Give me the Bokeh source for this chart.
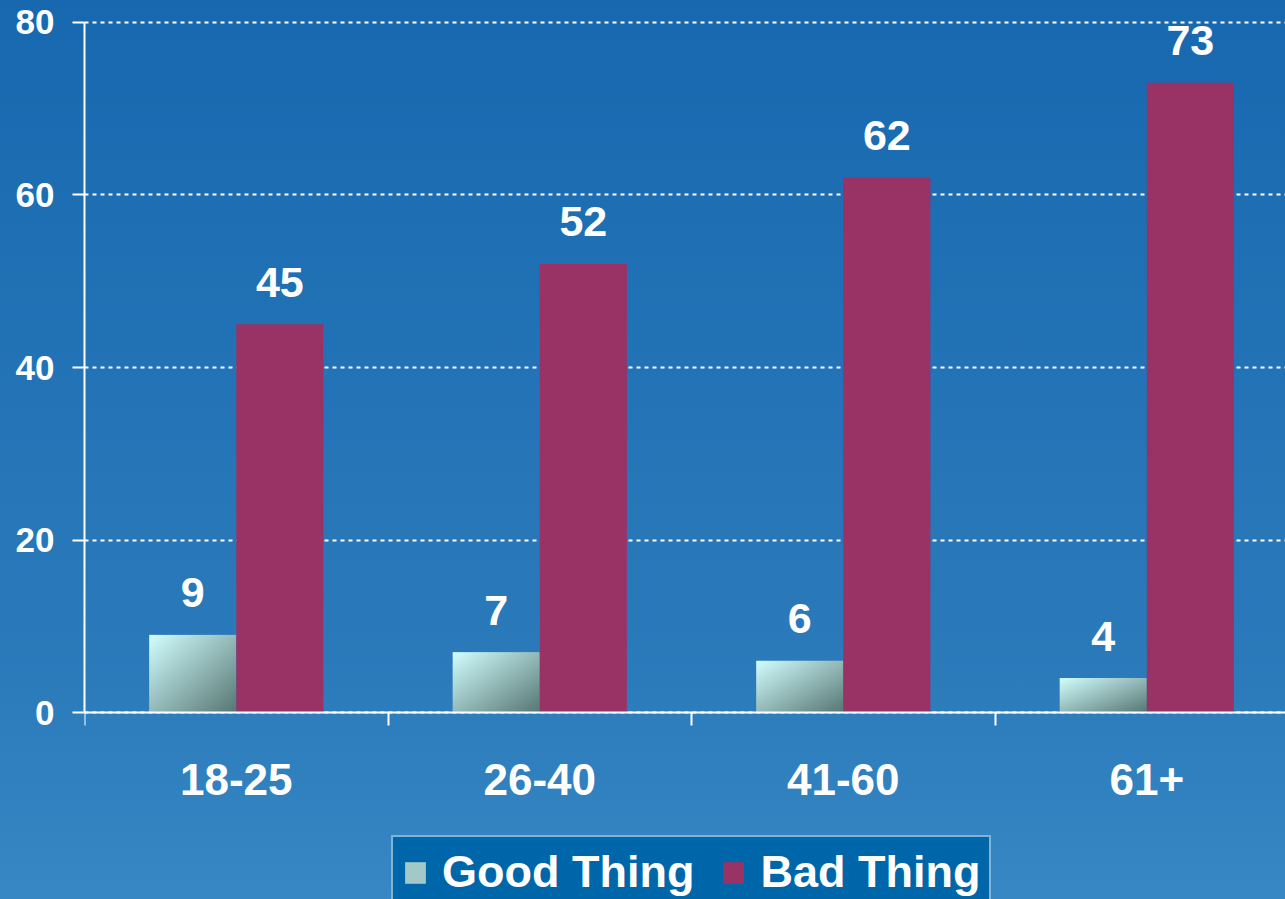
import numpy as np
from bokeh.plotting import figure
from bokeh.models import Range1d, FixedTicker, Legend, LegendItem, ColumnDataSource
from bokeh.embed import file_html
from bokeh.resources import INLINE
from bokeh.core.properties import value

# ---- data ----
categories = ["18-25", "26-40", "41-60", "61+"]
good = [9, 7, 6, 4]
bad = [45, 52, 62, 73]
y_ticks = [0, 20, 40, 60, 80]
series = ["Good Thing", "Bad Thing"]

BAR_W = 0.287
FONT = "Liberation Sans"
centers = [i + 0.5 for i in range(len(categories))]
boundaries = [float(i) for i in range(len(categories))]

p = figure(width=1285, height=899, output_backend="svg", toolbar_location=None,
           x_range=Range1d(0, 3.957), y_range=Range1d(-21.68, 82.55),
           min_border_left=84, min_border_right=0, min_border_top=0,
           min_border_bottom=0)
p.outline_line_color = None
p.background_fill_alpha = 0
p.border_fill_alpha = 0
p.styles = {"background": "linear-gradient(to bottom, #1868b0 0%, #2b7bbb 75%, #3687c3 100%)"}

# ---- gradient image for "Good Thing" bars ----
def grad_img(n=96, m=96):
    u = np.linspace(0, 1, n)
    v = np.linspace(0, 1, m)
    U, V = np.meshgrid(u, v)
    t = (U + (1 - V)) / 2.0
    c0 = np.array([210, 255, 255])
    c1 = np.array([88, 120, 117])
    img = np.empty((m, n), dtype=np.uint32)
    view = img.view(dtype=np.uint8).reshape((m, n, 4))
    for k in range(3):
        view[:, :, k] = (c0[k] + (c1[k] - c0[k]) * t).astype(np.uint8)
    view[:, :, 3] = 255
    return img

g = grad_img()
good_x = [c - BAR_W for c in centers]
p.image_rgba(image=[g] * len(good), x=good_x, y=[0] * len(good),
             dw=[BAR_W] * len(good), dh=good)

bad_r = p.vbar(x=[c + BAR_W / 2 for c in centers], width=BAR_W, top=bad, bottom=0,
               fill_color="#993366", line_color=None)

# legend swatch stand-in for the gradient bars (point kept outside the view)
proxy = p.vbar(source=ColumnDataSource(dict(x=[-10.0], top=[0.0])), x="x", top="top",
               width=BAR_W, fill_color="#a2c8c7", line_color=None)

# ---- value labels ----
lbl_kw = dict(text_align="center", text_baseline="alphabetic", y_offset=-42,
              text_font=value(FONT), text_font_style="bold", text_font_size="43px",
              text_color="white")
p.text(x=[c - BAR_W / 2 for c in centers], y=good, text=[str(v) for v in good], **lbl_kw)
p.text(x=[c + BAR_W / 2 for c in centers], y=bad, text=[str(v) for v in bad], **lbl_kw)

# ---- grid ----
p.xgrid.visible = False
p.ygrid.ticker = FixedTicker(ticks=y_ticks)
p.ygrid.grid_line_color = "white"
p.ygrid.grid_line_width = 2
p.ygrid.grid_line_dash = "4 4"

# ---- y axis ----
ya = p.yaxis[0]
ya.ticker = FixedTicker(ticks=y_ticks)
ya.bounds = (0, 80)
ya.axis_line_color = "white"
ya.axis_line_width = 2
ya.major_tick_line_color = "white"
ya.major_tick_line_width = 2
ya.major_tick_out = 12
ya.major_tick_in = 0
ya.minor_tick_line_color = None
ya.major_label_standoff = 18
ya.major_label_text_color = "white"
ya.major_label_text_font = FONT
ya.major_label_text_font_style = "bold"
ya.major_label_text_font_size = "35px"

# ---- x axis (fixed at y = 0) ----
xa = p.xaxis[0]
xa.fixed_location = 0
xa.ticker = FixedTicker(ticks=centers, minor_ticks=boundaries)
xa.major_label_overrides = {c: cat for c, cat in zip(centers, categories)}
xa.axis_line_color = "white"
xa.axis_line_width = 2
xa.major_tick_out = 0
xa.major_tick_in = 0
xa.major_tick_line_color = None
xa.minor_tick_out = 13
xa.minor_tick_in = 0
xa.minor_tick_line_color = "white"
xa.minor_tick_line_width = 2
xa.major_label_standoff = 38
xa.major_label_text_color = "white"
xa.major_label_text_font = FONT
xa.major_label_text_font_style = "bold"
xa.major_label_text_font_size = "44px"

# ---- legend ----
legend = Legend(items=[LegendItem(label=series[0], renderers=[proxy]),
                       LegendItem(label=series[1], renderers=[bad_r])],
                location=(307, -10), orientation="horizontal")
legend.background_fill_color = "#0066aa"
legend.background_fill_alpha = 1
legend.border_line_color = "white"
legend.border_line_width = 2
legend.label_text_color = "white"
legend.label_text_font = FONT
legend.label_text_font_style = "bold"
legend.label_text_font_size = "45px"
legend.glyph_width = 26
legend.glyph_height = 27
legend.label_standoff = 14
legend.spacing = 26
legend.padding = 9
legend.margin = 0
p.add_layout(legend)

open("out.html", "w").write(file_html(p, INLINE))
